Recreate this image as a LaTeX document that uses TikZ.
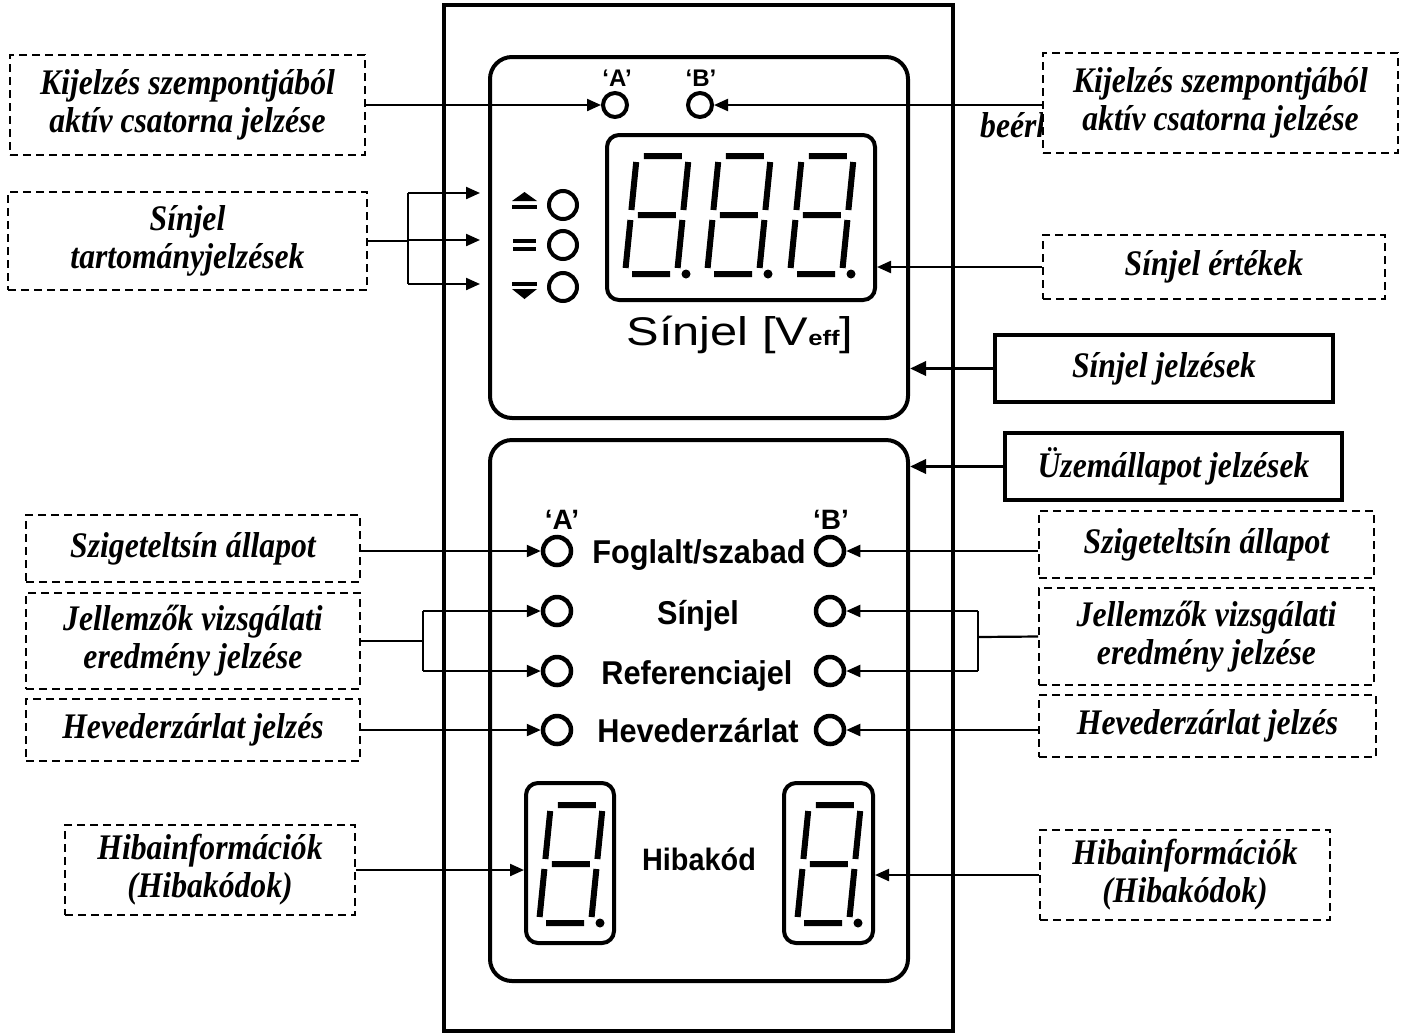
\documentclass[tikz,border=0pt]{standalone}
\usepackage{fontspec}
\setmainfont{Liberation Serif}
\setsansfont{Liberation Sans}
\newfontfamily\lblfont{Liberation Serif}[FakeStretch=0.88]
\newfontfamily\panelfont{Liberation Sans}[FakeStretch=0.93]
\usetikzlibrary{arrows.meta}
\begin{document}
\begin{tikzpicture}[x=1pt,y=-1pt,
  lbl/.style={font=\lblfont\fontsize{36}{38}\selectfont\bfseries\itshape, align=center},
  dbox/.style={lbl, draw, line width=2, dash pattern=on 8pt off 5pt, fill=white, inner sep=0},
  sbox/.style={lbl, draw, line width=3.5, fill=white, inner sep=0},
  arr/.style={line width=2.2, -{Triangle[length=14pt,width=12pt]}},
  arrb/.style={line width=3.5, -{Triangle[length=16pt,width=14pt]}},
  ln/.style={line width=2.2},
  frame/.style={draw, line width=4, inner sep=0},
  led/.style={circle, draw, line width=4.5, minimum size=28pt, inner sep=0},
  sled/.style={circle, draw, line width=4, minimum size=28pt, inner sep=0},
  tled/.style={circle, draw, line width=4, minimum size=24pt, inner sep=0},
  ptxt/.style={font=\panelfont\bfseries\fontsize{33}{33}\selectfont, inner sep=0, anchor=base},
  seg/.style={line width=6, line cap=butt},
  segdigit/.pic={
    \begin{scope}[xslant=0.1]
      \draw[seg] (0,-6)--(0,-54) (0,-64)--(0,-112) (52,-6)--(52,-54) (52,-64)--(52,-112)
                 (7,0)--(45,0) (7,-59)--(45,-59) (7,-118)--(45,-118);
    \end{scope}
    \fill (61,0) circle (4.5);
  }
]
\useasboundingbox (0,0) rectangle (1407,1034);

% ---------- device panel ----------
\node[frame, minimum width=509pt, minimum height=1026pt] (panel) at (698.5,518) {};
\node[frame, rounded corners=22pt, minimum width=418pt, minimum height=361pt] (upper) at (699,237.5) {};
\node[frame, rounded corners=22pt, minimum width=418pt, minimum height=541pt] (lower) at (699,710.5) {};
\node[frame, rounded corners=12pt, minimum width=268pt, minimum height=165pt] (disp) at (741,217.5) {};
\node[frame, rounded corners=12pt, minimum width=88pt, minimum height=160pt] (dL) at (570,863) {};
\node[frame, rounded corners=12pt, minimum width=89pt, minimum height=160pt] (dR) at (828.5,863) {};

% seven segment digits
\pic at (625,274) {segdigit};
\pic at (707,274) {segdigit};
\pic at (790,274) {segdigit};
\pic at (539,923) {segdigit};
\pic at (797,923) {segdigit};

% top channel LEDs
\node[font=\sffamily\bfseries\fontsize{24}{24}\selectfont, inner sep=0] (tAl) at (617,78) {‘A’};
\node[font=\sffamily\bfseries\fontsize{24}{24}\selectfont, inner sep=0] (tBl) at (701,78) {‘B’};
\node[tled] (tA) at (615,105) {};
\node[tled] (tB) at (700,105) {};

% range symbols and LEDs
\fill (512,201) -- (524.5,192) -- (537,201) -- cycle;
\fill (512,205) rectangle (537,209);
\fill (513,239) rectangle (536,243);
\fill (513,247) rectangle (536,251);
\fill (512,282) rectangle (537,286);
\fill (512,289) -- (524.5,299) -- (537,289) -- cycle;
\node[sled] (s1) at (563,205) {};
\node[sled] (s2) at (563,245) {};
\node[sled] (s3) at (563,287) {};

\node[font=\sffamily\fontsize{40}{40}\selectfont, anchor=base, xscale=1.22, inner sep=0] (unit) at (740,345)
  {Sínjel [V{\bfseries\fontsize{21}{21}\selectfont eff}]};

% lower panel LEDs and texts
\node[font=\sffamily\bfseries\fontsize{28}{28}\selectfont, inner sep=0] (Alab) at (562,520) {‘A’};
\node[font=\sffamily\bfseries\fontsize{28}{28}\selectfont, inner sep=0] (Blab) at (831,520) {‘B’};
\node[led] (lA1) at (557,551) {};
\node[led] (lA2) at (557,611) {};
\node[led] (lA3) at (557,671) {};
\node[led] (lA4) at (557,730) {};
\node[led] (lB1) at (830,551) {};
\node[led] (lB2) at (830,611) {};
\node[led] (lB3) at (830,671) {};
\node[led] (lB4) at (830,730) {};
\node[ptxt] (t1txt) at (699,563) {Foglalt/szabad};
\node[ptxt] (t2txt) at (698,624) {Sínjel};
\node[ptxt] (t3txt) at (697,684) {Referenciajel};
\node[ptxt] (t4txt) at (698,742) {Hevederzárlat};
\node[ptxt, font=\panelfont\bfseries\fontsize{31}{31}\selectfont] (hk) at (699,870) {Hibakód};

% ---------- labels ----------
\node[lbl, anchor=base west, inner sep=0] (beerk) at (980,137) {beérkező};

\node[dbox, minimum width=355pt, minimum height=100pt] (kl) at (187.5,105) {Kijelzés szempontjából\\aktív csatorna jelzése};
\node[dbox, minimum width=355pt, minimum height=100pt] (kr) at (1220.5,103) {Kijelzés szempontjából\\aktív csatorna jelzése};
\node[dbox, minimum width=359pt, minimum height=98pt] (st) at (187.5,241) {Sínjel\\tartományjelzések};
\node[dbox, minimum width=342pt, minimum height=64pt] (se) at (1214,267) {Sínjel értékek};
\node[sbox, minimum width=338pt, minimum height=67pt] (sj) at (1164,368.5) {Sínjel jelzések};
\node[sbox, minimum width=337pt, minimum height=67pt] (uz) at (1173.5,466.5) {Üzemállapot jelzések};

\node[dbox, minimum width=334pt, minimum height=67pt] (szL) at (193,548.5) {Szigeteltsín állapot};
\node[dbox, minimum width=334pt, minimum height=96pt] (jeL) at (193,641) {Jellemzők vizsgálati\\eredmény jelzése};
\node[dbox, minimum width=334pt, minimum height=62pt] (hvL) at (193,730) {Hevederzárlat jelzés};
\node[dbox, minimum width=290pt, minimum height=90pt] (hbL) at (210,870) {Hibainformációk\\(Hibakódok)};

\node[dbox, minimum width=335pt, minimum height=67pt] (szR) at (1206.5,544.5) {Szigeteltsín állapot};
\node[dbox, minimum width=335pt, minimum height=97pt] (jeR) at (1206.5,636.5) {Jellemzők vizsgálati\\eredmény jelzése};
\node[dbox, minimum width=337pt, minimum height=62pt] (hvR) at (1207.5,726) {Hevederzárlat jelzés};
\node[dbox, minimum width=290pt, minimum height=90pt] (hbR) at (1185,875) {Hibainformációk\\(Hibakódok)};

% ---------- connectors ----------
\draw[arr] (kl.east |- tA) -- (tA.west);
\draw[arr] (kr.west |- tB) -- (tB.east);

\coordinate (sb) at (408,241);
\coordinate (r1) at (480,193);
\coordinate (r2) at (480,240);
\coordinate (r3) at (480,284);
\draw[ln] (st.east) -- (sb);
\draw[ln] (sb |- r1) -- (sb |- r3);
\draw[arr] (sb |- r1) -- (r1);
\draw[arr] (sb |- r2) -- (r2);
\draw[arr] (sb |- r3) -- (r3);

\draw[arr] (se.west) -- (se.west -| disp.east);
\draw[arrb] (sj.west) -- (sj.west -| upper.east);
\draw[arrb] (uz.west) -- (uz.west -| lower.east);

\draw[arr] (szL.east |- lA1) -- (lA1.west);
\coordinate (bL) at (423,641);
\draw[ln] (jeL.east) -- (bL);
\draw[ln] (bL |- lA2) -- (bL |- lA3);
\draw[arr] (bL |- lA2) -- (lA2.west);
\draw[arr] (bL |- lA3) -- (lA3.west);
\draw[arr] (hvL.east |- lA4) -- (lA4.west);

\draw[arr] (szR.west |- lB1) -- (lB1.east);
\coordinate (bR) at (978,637);
\draw[ln] (jeR.west) -- (bR);
\draw[ln] (bR |- lB2) -- (bR |- lB3);
\draw[arr] (bR |- lB2) -- (lB2.east);
\draw[arr] (bR |- lB3) -- (lB3.east);
\draw[arr] (hvR.west |- lB4) -- (lB4.east);

\draw[arr] (hbL.east) -- (hbL.east -| dL.west);
\draw[arr] (hbR.west) -- (hbR.west -| dR.east);
\end{tikzpicture}
\end{document}
